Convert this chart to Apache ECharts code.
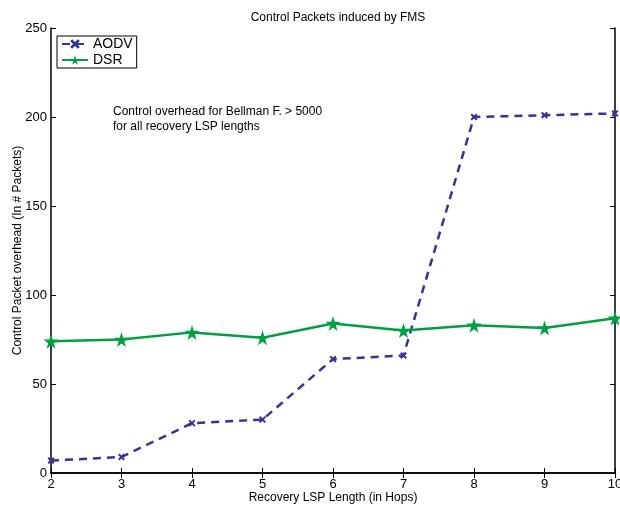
<!DOCTYPE html>
<html>
<head>
    <meta charset="utf-8">
    <title>Control Packets induced by FMS</title>
    <style>
        body { margin: 0; background: #fff; }
        #chart { width: 620px; height: 508px; }
    </style>
</head>
<body>
    <div id="chart"></div>
    <script src="https://cdn.jsdelivr.net/npm/echarts@6/dist/echarts.min.js"></script>
    <script>
        var hops = [2, 3, 4, 5, 6, 7, 8, 9, 10];
        var aodv = [7, 9, 28, 30, 64, 66, 200, 201, 202];
        var dsr = [74, 75, 79, 76, 84, 80, 83, 81.5, 87];

        var starPath = 'path://M50,0L61,35L98,35L68,57L79,91L50,70L21,91L32,57L2,35L39,35Z';
        var crossPath = 'path://M0,2L2,0L5,3L8,0L10,2L7,5L10,8L8,10L5,7L2,10L0,8L3,5Z';
        var font = 'Liberation Sans, Arial, sans-serif';

        function pairs(ys) {
            return hops.map(function (h, i) { return [h, ys[i]]; });
        }

        var chart = echarts.init(document.getElementById('chart'));
        chart.setOption({
            animation: false,
            title: {
                text: 'Control Packets induced by FMS',
                left: 333, top: 7, textAlign: 'center',
                textStyle: { fontSize: 12, fontWeight: 'normal', color: '#000', fontFamily: font }
            },
            legend: {
                left: 57, top: 36, orient: 'vertical',
                padding: [1, 4, 1, 4], itemGap: 2, itemWidth: 26, itemHeight: 12,
                borderColor: '#000', borderWidth: 1,
                textStyle: { fontSize: 14, color: '#000', fontFamily: font },
                data: ['AODV', 'DSR']
            },
            grid: { left: 51, right: 5, top: 28, bottom: 35, outerBoundsMode: 'none' },
            xAxis: [{
                type: 'value', min: 2, max: 10, interval: 1,
                name: 'Recovery LSP Length (in Hops)', nameLocation: 'middle', nameGap: 19,
                nameMoveOverlap: false,
                nameTextStyle: { fontSize: 12, color: '#000', fontFamily: font },
                axisLine: { lineStyle: { color: '#000', width: 1.5 } },
                axisTick: { inside: true, length: 5, lineStyle: { color: '#000' } },
                axisLabel: { color: '#000', fontSize: 13, fontFamily: font, margin: 5 },
                splitLine: { show: false }
            }, {
                type: 'value', min: 2, max: 10, interval: 1, position: 'top',
                axisLine: { lineStyle: { color: '#000', width: 1.5 } },
                axisTick: { inside: true, length: 5, lineStyle: { color: '#000' } },
                axisLabel: { show: false }, splitLine: { show: false }
            }],
            yAxis: [{
                type: 'value', min: 0, max: 250, interval: 50,
                name: 'Control Packet overhead (In # Packets)', nameLocation: 'middle', nameGap: 27,
                nameMoveOverlap: false,
                nameTextStyle: { fontSize: 12, color: '#000', fontFamily: font },
                axisLine: { show: true, lineStyle: { color: '#000', width: 1.5 } },
                axisTick: { show: true, inside: true, length: 5, lineStyle: { color: '#000' } },
                axisLabel: { color: '#000', fontSize: 13, fontFamily: font, margin: 4 },
                splitLine: { show: false }
            }, {
                type: 'value', min: 0, max: 250, interval: 50, position: 'right',
                axisLine: { show: true, lineStyle: { color: '#000', width: 1.5 } },
                axisTick: { show: true, inside: true, length: 5, lineStyle: { color: '#000' } },
                axisLabel: { show: false }, splitLine: { show: false }
            }],
            graphic: [{
                type: 'text', left: 113, top: 104,
                style: {
                    text: 'Control overhead for Bellman F. > 5000\nfor all recovery LSP lengths',
                    fontSize: 12, lineHeight: 15, fill: '#000', fontFamily: font
                }
            }],
            series: [{
                name: 'AODV', type: 'line', data: pairs(aodv),
                symbol: crossPath, symbolSize: 7,
                itemStyle: { color: '#333399' },
                lineStyle: { color: '#333399', width: 2.5, type: [8, 6] }
            }, {
                name: 'DSR', type: 'line', data: pairs(dsr),
                symbol: starPath, symbolSize: 15,
                itemStyle: { color: '#00a040' },
                lineStyle: { color: '#00a040', width: 2.5 }
            }]
        });
    </script>
</body>
</html>
